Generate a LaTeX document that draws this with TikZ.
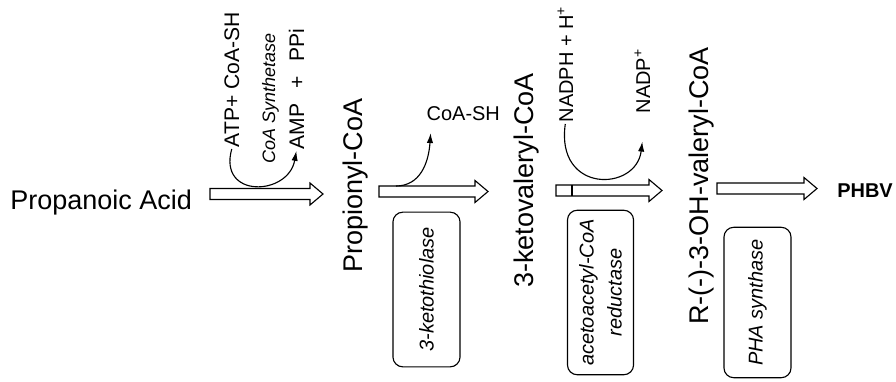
\documentclass[tikz,border=0pt]{standalone}
\usepackage{fontspec}
\setmainfont{Liberation Sans}
\usepackage{tikz}
\usetikzlibrary{calc}
\usetikzlibrary{arrows.meta}
\newcommand{\bigfont}{\fontsize{19.2}{22}\selectfont}
\newcommand{\smallfont}{\fontsize{14.2}{17}\selectfont}
\newcommand{\pwcompound}[3] {\node at (#1) (#2) [anchor=base west, inner sep=0pt, font=\bigfont] {#3};}
\newcommand{\pwintermediate}[3] {\node at (#1) (#2) [rotate=90, anchor=base west, inner sep=0pt, font=\bigfont] {#3};}
\newcommand{\pwcofactor}[3] {\node at (#1) (#2) [rotate=90, anchor=base west, inner sep=1pt, font=\smallfont] {#3};}
\newcommand{\pwenzyme}[5] {\node at (#1) (#2) [rotate=90, draw, line width=0.8pt, rounded corners=7pt, minimum width=#3, minimum height=#4, align=center, font=\fontsize{14.2}{20}\selectfont\itshape] {#5};}
\newcommand{\pwstep}[2] {\draw [line width=0.8pt] ($(#1)+(0,-5.5)$) -- ($(#2)+(-13,-5.5)$) -- ($(#2)+(-13,-11)$) -- (#2) -- ($(#2)+(-13,11)$) -- ($(#2)+(-13,5.5)$) -- ($(#1)+(0,5.5)$) -- cycle;}
\newcommand{\pwside}[4] {\draw [line width=0.8pt, -{Latex[length=7pt,width=4.5pt]}] (#1) .. controls +(#3) and +(#4) .. (#2);}

\begin{document}
\begin{tikzpicture}[x=0.025cm, y=-0.025cm]
\useasboundingbox (0,0) rectangle (896,382);

% main chain
\pwcompound {10,209} {pa} {Propanoic Acid};
\pwintermediate {362,273} {pcoa} {Propionyl-CoA};
\pwintermediate {533,288} {kvcoa} {3-ketovaleryl-CoA};
\pwintermediate {708,325} {hvcoa} {R-(-)-3-OH-valeryl-CoA};
\node at (837,197) (phbv) [anchor=base west, inner sep=0pt, font=\smallfont\bfseries] {PHBV};

\coordinate (s1) at (210,194); \coordinate (e1) at (323,194);
\coordinate (s2) at (379,191.5); \coordinate (e2) at (488,191.5);
\coordinate (s3) at (556,190.5); \coordinate (e3) at (662,190.5);
\coordinate (s4) at (717,188.5); \coordinate (e4) at (817,188.5);
\pwstep{s1}{e1};
\pwstep{s2}{e2};
\pwstep{s3}{e3};
\pwstep{s4}{e4};
\draw [line width=0.8pt] ($(s3)+(16,-5.5)$) -- ($(s3)+(16,5.5)$);

% cofactors
\node at (239,149) (atp) [rotate=90, anchor=base west, inner sep=1pt, font=\fontsize{15}{18}\selectfont] {ATP+ CoA-SH};
\node at (275,165) (cos) [rotate=90, anchor=base west, inner sep=1pt, font=\fontsize{12.8}{15}\selectfont\itshape] {CoA Synthetase};
\node at (304,151) (amp) [rotate=90, anchor=base west, inner sep=1pt, font=\fontsize{15}{18}\selectfont] {AMP\hspace{0.7em}+\hspace{0.7em}PPi};
\node at (425,120) (coash) [anchor=base west, inner sep=1pt, font=\smallfont] {CoA-SH};
\pwcofactor {573,124} {nadph} {NADPH + H\textsuperscript{+}};
\pwcofactor {650,115} {nadp} {NADP\textsuperscript{+}};

\pwside {atp.west} {amp.west} {-14,50} {-8,45};
\coordinate (k1) at (396,186);
\pwside {k1} {[shift={(4pt,-8pt)}]coash.south west} {24,0} {-2,30};
\pwside {nadph.west} {[yshift=-19pt]nadp.west} {-10,70} {-6,50};

% enzymes
\pwenzyme {426.5,289.5} {thiolase} {110pt} {47.7pt} {3-ketothiolase};
\pwenzyme {600.5,292.5} {reductase} {117pt} {47pt} {acetoacetyl-CoA\\reductase};
\pwenzyme {757.5,302.5} {synthase} {107pt} {47.7pt} {PHA synthase};
\end{tikzpicture}
\end{document}
